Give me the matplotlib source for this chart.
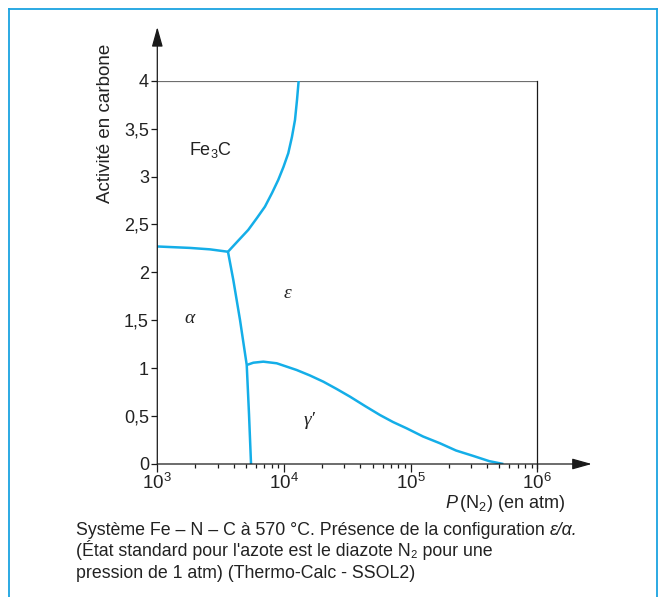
import matplotlib
matplotlib.use("Agg")
import matplotlib.pyplot as plt
from matplotlib.lines import Line2D
from matplotlib.ticker import FixedLocator, FixedFormatter, LogLocator, NullFormatter

plt.rcParams['font.family'] = ['Liberation Sans', 'DejaVu Sans']
plt.rcParams['mathtext.fontset'] = 'custom'
plt.rcParams['mathtext.rm'] = 'Liberation Sans'
plt.rcParams['mathtext.it'] = 'Liberation Sans:italic'
plt.rcParams['mathtext.bf'] = 'Liberation Sans:bold'

# --- phase boundaries: P(N2) in atm vs carbon activity ---
fe3c_alpha_p = [1000, 1811, 2606, 3614]
fe3c_alpha_a = [2.27, 2.255, 2.24, 2.215]

fe3c_eps_p = [3614, 4335, 5224, 6124, 7079, 8054, 9016, 9908, 10814, 11561, 12218, 12677, 13062]
fe3c_eps_a = [2.215, 2.328, 2.443, 2.568, 2.686, 2.829, 2.965, 3.10, 3.243, 3.413, 3.59, 3.80, 4.0]

alpha_eps_p = [3614, 3981, 4498, 5082]
alpha_eps_a = [2.215, 1.921, 1.503, 1.033]

alpha_gam_p = [5082, 5297, 5495]
alpha_gam_a = [1.033, 0.52, 0.0]

gam_eps_p = [5082, 5728, 6871, 8770, 12590, 16030, 20460, 26060, 33190, 43650, 57280,
             72610, 93110, 125300, 170600, 228000, 312600, 416900, 539500]
gam_eps_a = [1.033, 1.057, 1.068, 1.051, 0.981, 0.924, 0.859, 0.783, 0.703, 0.605, 0.511,
             0.438, 0.372, 0.287, 0.216, 0.141, 0.084, 0.03, 0.0]

y_ticks = [0, 0.5, 1, 1.5, 2, 2.5, 3, 3.5, 4]
y_tick_labels = ['0', '0,5', '1', '1,5', '2', '2,5', '3', '3,5', '4']
x_ticks = [1e3, 1e4, 1e5, 1e6]
x_tick_labels = [r'$\mathregular{10^3}$', r'$\mathregular{10^4}$',
                 r'$\mathregular{10^5}$', r'$\mathregular{10^6}$']

# phase labels: (text, P, activity)
fe3c_label = (r'$\mathregular{Fe_3C}$', 2612, 3.278)
greek_labels = [
    ('ε', 10570, 1.775),
    ('α', 1811, 1.514),
    ('γ\u2032', 16030, 0.459),
]

# caption: line 1 is split where the italic phases start
caption_1a = 'Système Fe – N – C à 570 °C. Présence de la configuration '
caption_1b = 'ε/α.'
caption_2 = "(État standard pour l'azote est le diazote N\u2082 pour une"
caption_3 = 'pression de 1 atm) (Thermo-Calc - SSOL2)'

W, H = 664, 597
fig = plt.figure(figsize=(W / 100, H / 100), dpi=100)
ink = '#222222'

# axes box in pixel units
x0, x1 = 157.3, 537.3
y0, y1 = 464.0, 80.7
ax = fig.add_axes([x0 / W, 1 - y0 / H, (x1 - x0) / W, (y0 - y1) / H])
ax.set_xscale('log')
ax.set_xlim(1e3, 1e6)
ax.set_ylim(0, 4)
for s in ax.spines.values():
    s.set_visible(False)

blue = '#14aee8'
lw = 1.8
for p, a in [(fe3c_alpha_p, fe3c_alpha_a), (fe3c_eps_p, fe3c_eps_a),
             (alpha_eps_p, alpha_eps_a), (alpha_gam_p, alpha_gam_a),
             (gam_eps_p, gam_eps_a)]:
    ax.plot(p, a, color=blue, lw=lw, solid_joinstyle='round', solid_capstyle='butt', zorder=3)

# frame lines: grey top at activity 4, thin right edge at 1e6
ax.plot([1e3, 1e6], [4, 4], color='#6e6e6e', lw=1.6, solid_capstyle='butt', zorder=2)
ax.plot([1e6, 1e6], [4, -0.045], color='#1a1a1a', lw=0.9, clip_on=False, zorder=2)

# axes with arrows
arrow_kw = dict(arrowstyle='-|>,head_length=1.0,head_width=0.28', color='#1a1a1a',
                lw=0.9, mutation_scale=12, shrinkA=0, shrinkB=0)
ax.annotate('', xy=(10 ** 6.43, 0), xytext=(1e3, 0), arrowprops=arrow_kw,
            annotation_clip=False, zorder=4)
ax.annotate('', xy=(1e3, 4.56), xytext=(1e3, 0), arrowprops=arrow_kw,
            annotation_clip=False, zorder=4)

# ticks
ax.yaxis.set_major_locator(FixedLocator(y_ticks))
ax.yaxis.set_major_formatter(FixedFormatter(y_tick_labels))
ax.xaxis.set_major_locator(FixedLocator(x_ticks))
ax.xaxis.set_major_formatter(FixedFormatter(x_tick_labels))
ax.xaxis.set_minor_locator(LogLocator(base=10, subs=range(2, 10)))
ax.xaxis.set_minor_formatter(NullFormatter())
ax.tick_params(axis='y', which='major', direction='out', length=4.0, width=0.9,
               color='#1a1a1a', labelsize=13, pad=2, labelcolor=ink)
ax.tick_params(axis='x', which='major', direction='out', length=5.8, width=0.9,
               color='#1a1a1a', labelsize=13.5, pad=0.5, labelcolor=ink)
ax.tick_params(axis='x', which='minor', direction='out', length=3.2, width=0.9,
               color='#1a1a1a')

# phase names
txt, p, a = fe3c_label
ax.text(p, a, txt, fontsize=13, ha='center', va='center', color=ink)
for txt, p, a in greek_labels:
    ax.text(p, a, txt, fontsize=14, ha='center', va='center', color=ink,
            family=['Liberation Serif', 'DejaVu Serif'], style='italic')

# axis titles
fig.text(445 / W, 1 - 508 / H, r'$\it{P}\,$(N$_2$) (en atm)', fontsize=13,
         ha='left', va='baseline', color=ink)
fig.text(105 / W, 1 - 123 / H, 'Activité en carbone', fontsize=13.5, rotation=90,
         ha='center', va='center', color=ink)

# caption
cap_x = 76 / W
cap_size = 12.8
t1 = fig.text(cap_x, 1 - 539 / H, caption_1a, fontsize=cap_size,
              ha='left', va='bottom', color=ink)
ax.annotate(caption_1b, xy=(1, 0), xycoords=t1, fontsize=cap_size, style='italic',
            color=ink, ha='left', va='bottom', annotation_clip=False)
fig.text(cap_x, 1 - 560.5 / H, caption_2, fontsize=cap_size,
         ha='left', va='bottom', color=ink)
fig.text(cap_x, 1 - 582 / H, caption_3, fontsize=cap_size,
         ha='left', va='bottom', color=ink)

# light blue box around the figure (open at the bottom)
border = '#1aa3e0'
for xs, ys in [([9, 9], [H, 9]), ([9, 657], [9, 9]), ([657, 657], [9, H])]:
    fig.add_artist(Line2D([x / W for x in xs], [1 - y / H for y in ys],
                          transform=fig.transFigure, color=border, lw=1.3))

fig.savefig('out.png', dpi=100)
